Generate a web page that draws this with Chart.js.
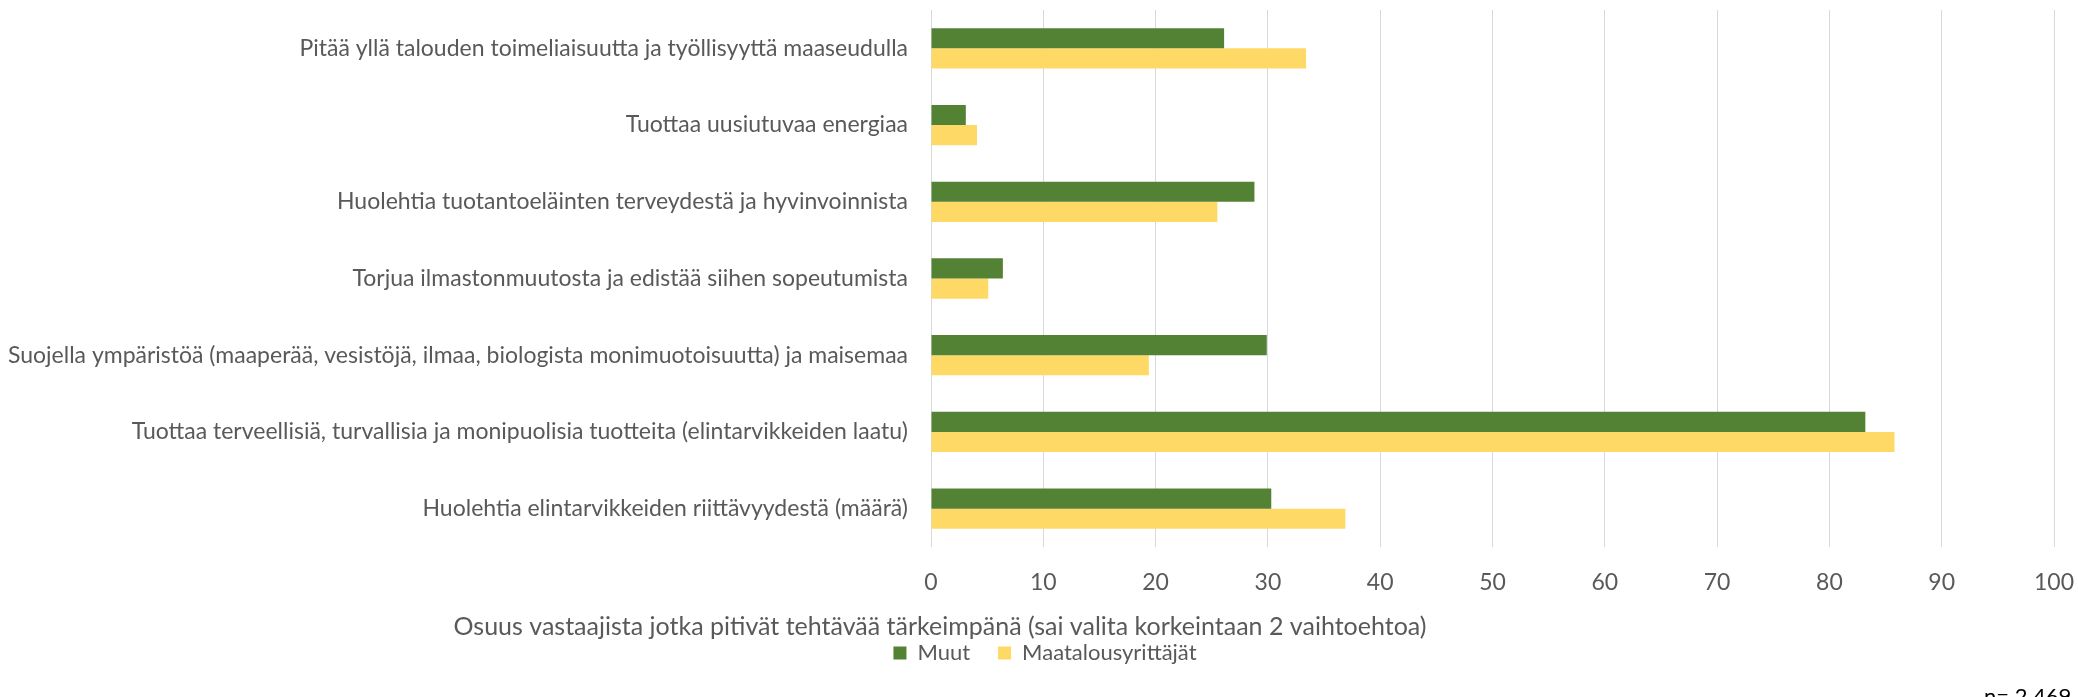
<!DOCTYPE html>
<html>
<head>
<meta charset="utf-8">
<script src="https://cdn.jsdelivr.net/npm/chart.js@4"></script>
<style>
  html, body { margin: 0; padding: 0; background: #fff; }
  #wrap { width: 2078px; height: 697px; }
</style>
</head>
<body>
<div id="wrap"><canvas id="tasksChart" width="2078" height="697"></canvas></div>
<script>
// categories, top to bottom as in the chart
const categories = [
   'Pitää yllä talouden toimeliaisuutta ja työllisyyttä maaseudulla',
   'Tuottaa uusiutuvaa energiaa',
   'Huolehtia tuotantoeläinten terveydestä ja hyvinvoinnista',
   'Torjua ilmastonmuutosta ja edistää siihen sopeutumista',
   'Suojella ympäristöä (maaperää, vesistöjä, ilmaa, biologista monimuotoisuutta) ja maisemaa',
   'Tuottaa terveellisiä, turvallisia ja monipuolisia tuotteita (elintarvikkeiden laatu)',
   'Huolehtia elintarvikkeiden riittävyydestä (määrä)'
];

// share of respondents (%)
const muut = [26.1, 3.1, 28.8, 6.4, 29.9, 83.2, 30.3];
const maatalousyrittajat = [33.4, 4.1, 25.5, 5.1, 19.4, 85.8, 36.9];

const xTicks = [0, 10, 20, 30, 40, 50, 60, 70, 80, 90, 100];

const axisTitle = 'Osuus vastaajista jotka pitivät tehtävää tärkeimpänä (sai valita korkeintaan 2 vaihtoehtoa)';
const sampleNote = 'n= 2 469';

const FONT = 'Lato';
const TEXT = '#595959';

// extra texts that sit outside the plot (Excel text boxes)
const extraText = {
   id: 'extraText',
   afterLayout(chart) {
      // legend in the original sits a bit right of centre
      chart.legend.left += 18;
      chart.legend.right += 18;
   },
   afterDraw(chart) {
      const c = chart.ctx;
      c.save();
      c.fillStyle = TEXT;
      c.font = '25px ' + FONT;
      c.textAlign = 'center';
      c.textBaseline = 'middle';
      c.fillText(axisTitle, 940, 627);
      c.fillStyle = '#000';
      c.font = '22px ' + FONT;
      c.textAlign = 'left';
      c.textBaseline = 'top';
      c.fillText(sampleNote, 1984, 686);
      c.restore();
   }
};

const ctx = document.getElementById('tasksChart').getContext('2d');
new Chart(ctx, {
   type: 'bar',
   data: {
      labels: categories,
      datasets: [
         { label: 'Muut', data: muut, backgroundColor: '#548235', borderWidth: 0 },
         { label: 'Maatalousyrittäjät', data: maatalousyrittajat, backgroundColor: '#FFD966', borderWidth: 0 }
      ]
   },
   options: {
      indexAxis: 'y',
      responsive: false,
      animation: false,
      layout: { padding: { top: 10, right: 24, bottom: 23, left: 0 } },
      datasets: { bar: { categoryPercentage: 0.525, barPercentage: 1 } },
      scales: {
         x: {
            min: 0,
            max: 100,
            afterBuildTicks: (axis) => { axis.ticks = xTicks.map(v => ({ value: v })); },
            afterFit: (axis) => {
               axis.height = 67;
               axis.paddingLeft = 0;
               axis.paddingRight = 0;
            },
            grid: { color: '#d9d9d9', lineWidth: 1, drawTicks: false },
            border: { display: false },
            ticks: { color: TEXT, font: { family: FONT, size: 23 }, padding: 22 }
         },
         y: {
            afterFit: (axis) => {
               axis.width = 931;
               axis.paddingTop = 0;
               axis.paddingBottom = 0;
            },
            grid: { display: false, drawTicks: false },
            border: { display: false },
            ticks: { color: TEXT, font: { family: FONT, size: 23 }, padding: 23 }
         }
      },
      plugins: {
         legend: {
            position: 'bottom',
            labels: {
               color: TEXT,
               font: { family: FONT, size: 22 },
               boxWidth: 13,
               boxHeight: 13,
               padding: 28
            }
         },
         tooltip: { enabled: false }
      }
   },
   plugins: [extraText]
});
</script>
</body>
</html>
